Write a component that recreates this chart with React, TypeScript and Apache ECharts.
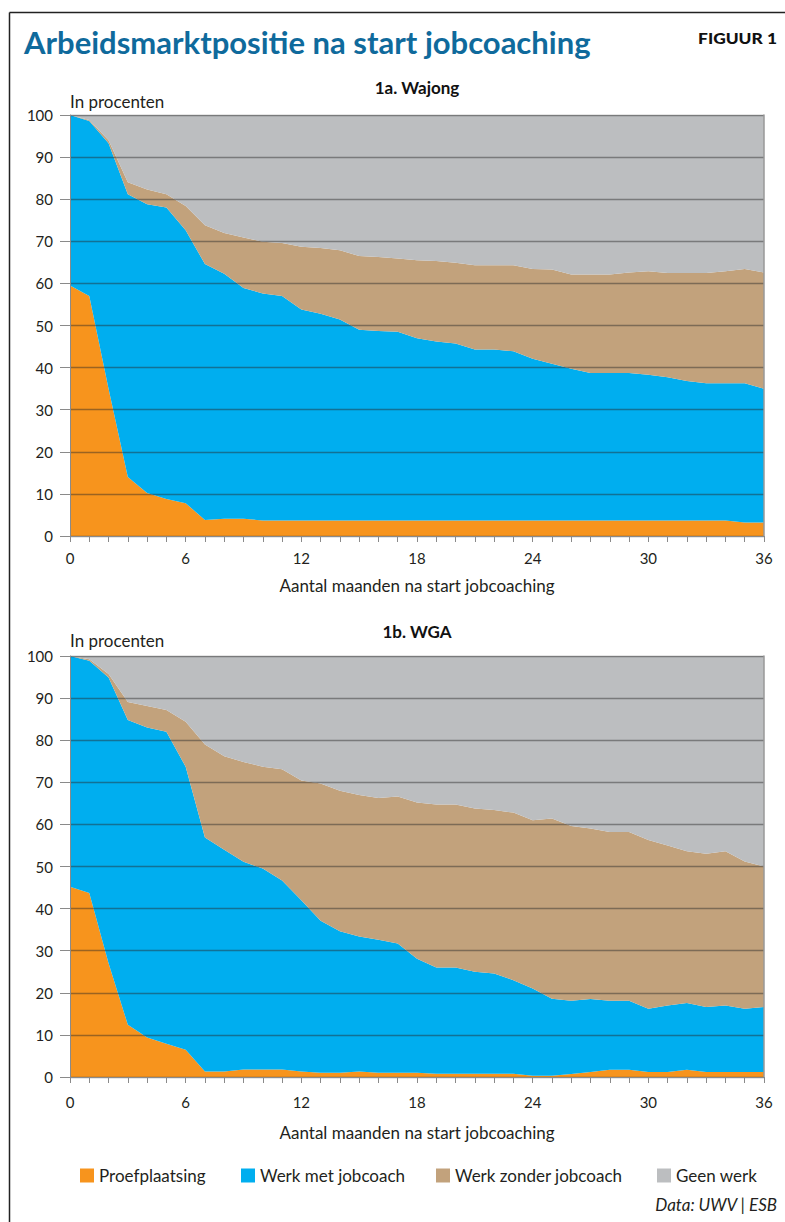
import React, { useEffect, useRef } from "react";
import * as echarts from "echarts";

const months = ["0","1","2","3","4","5","6","7","8","9","10","11","12","13","14","15","16","17","18","19","20","21","22","23","24","25","26","27","28","29","30","31","32","33","34","35","36"];
const seriesNames = ["Proefplaatsing", "Werk met jobcoach", "Werk zonder jobcoach", "Geen werk"];
const colors = ["#F7941D", "#00AEEF", "#C2A27C", "#BCBEC0"];

// 1a. Wajong (percentages per category, stacked to 100)
const wajongProef = [59.5,57,35,14,10.2,8.8,7.8,3.8,4.1,4.1,3.7,3.7,3.7,3.7,3.7,3.7,3.7,3.7,3.7,3.7,3.7,3.7,3.7,3.7,3.7,3.7,3.7,3.7,3.7,3.7,3.7,3.7,3.7,3.7,3.7,3.2,3.2];
const wajongMet = [40.5,41.6,58.3,67.2,68.6,69.2,64.8,60.8,58.2,54.8,53.9,53.3,50.1,49.1,47.7,45.3,45,44.8,43.3,42.5,42,40.6,40.6,40.2,38.4,37.2,36,35,35,35,34.6,34,33.1,32.6,32.6,33.1,31.8];
const wajongZonder = [0,0.2,0.7,2.8,3.5,3.2,5.8,9.2,9.7,12,12.3,12.6,14.9,15.6,16.5,17.5,17.6,17.4,18.5,19.1,19.2,20,20,20.4,21.3,22.4,22.4,23.4,23.4,23.9,24.6,24.8,25.7,26.2,26.6,27.1,27.6];
const wajongGeen = [0,1.2,6,16,17.7,18.8,21.6,26.2,28,29.1,30.1,30.4,31.3,31.6,32.1,33.5,33.7,34.1,34.5,34.7,35.1,35.7,35.7,35.7,36.6,36.7,37.9,37.9,37.9,37.4,37.1,37.5,37.5,37.5,37.1,36.6,37.4];

// 1b. WGA
const wgaProef = [45.2,43.7,27,12.4,9.4,7.9,6.5,1.3,1.3,1.8,1.8,1.8,1.3,1,1,1.3,1,1,1,0.8,0.8,0.8,0.8,0.8,0.3,0.3,0.7,1.2,1.7,1.7,1.2,1.2,1.7,1.2,1.2,1.2,1.2];
const wgaMet = [54.8,55.2,67.9,72.4,73.6,74.1,67.2,55.6,52.7,49.3,47.7,44.9,40.7,36.1,33.6,32.1,31.6,30.7,27.1,25.2,25.2,24.2,23.8,22.2,20.7,18.3,17.4,17.3,16.4,16.4,15,15.8,15.9,15.4,15.8,15,15.4];
const wgaZonder = [0,0.3,0.8,4.3,5.1,5.2,10.7,22.1,22.2,23.7,24.2,26.4,28.4,32.6,33.4,33.6,33.7,34.9,37.1,38.7,38.7,38.8,38.8,39.8,40,42.8,41.5,40.5,40.1,40.1,40.1,38,36,36.4,36.6,35,33.4];
const wgaGeen = [0,0.8,4.3,10.9,11.9,12.8,15.6,21,23.8,25.2,26.3,26.9,29.6,30.3,32,33,33.7,33.4,34.8,35.3,35.3,36.2,36.6,37.2,39,38.6,40.4,41,41.8,41.8,43.7,45,46.4,47,46.4,48.8,50];

const yTicks = [0,10,20,30,40,50,60,70,80,90,100];

const FONT = "Lato";
const TXT = "#231f20";
const AXIS = "#8a8a8a";

export default function App() {
  const ref = useRef<HTMLDivElement>(null);
  useEffect(() => {
    if (!ref.current) return;
    const chart = echarts.init(ref.current, null, { renderer: "svg" });
    const grids = [
      { left: 70, top: 115, width: 694, height: 421 },
      { left: 70, top: 656, width: 694, height: 421 },
    ];
    const xAxisName = "Aantal maanden na start jobcoaching";
    const xAxes = [0, 1].map((g) => ({
      type: "category",
      gridIndex: g,
      data: months,
      boundaryGap: false,
      z: 5,
      axisLine: { show: true, lineStyle: { color: AXIS, width: 1 } },
      axisTick: { show: true, interval: 0, length: 6, lineStyle: { color: AXIS } },
      axisLabel: { interval: 5, margin: g === 0 ? 14 : 17, fontSize: 15, color: TXT, fontFamily: FONT },
      splitLine: { show: false },
      name: xAxisName,
      nameLocation: "middle",
      nameGap: g === 0 ? 41 : 47,
      nameTextStyle: { fontSize: 17, color: TXT, fontFamily: FONT },
    }));
    const yAxes: any[] = [];
    [0, 1].forEach((g) => {
      yAxes.push({
        type: "value",
        gridIndex: g,
        min: yTicks[0],
        max: yTicks[yTicks.length - 1],
        interval: 10,
        z: 5,
        axisLine: { show: true, lineStyle: { color: AXIS, width: 1 } },
        axisTick: { show: true, length: 10, lineStyle: { color: AXIS } },
        axisLabel: { margin: 17, fontSize: 15, color: TXT, fontFamily: FONT },
        splitLine: { show: true, lineStyle: { color: "rgba(40,40,40,0.45)", width: 1.3 } },
      });
      yAxes.push({
        type: "value",
        gridIndex: g,
        position: "right",
        min: 0,
        max: 100,
        interval: 10,
        z: 5,
        axisLine: { show: true, lineStyle: { color: "#999", width: 1.5 } },
        axisTick: { show: false },
        axisLabel: { show: false },
        splitLine: { show: false },
      });
    });
    const sets = [
      [wajongProef, wajongMet, wajongZonder, wajongGeen],
      [wgaProef, wgaMet, wgaZonder, wgaGeen],
    ];
    const series: any[] = [];
    sets.forEach((set, g) => {
      set.forEach((vals, i) => {
        series.push({
          type: "line",
          name: seriesNames[i],
          xAxisIndex: g,
          yAxisIndex: g * 2,
          stack: "s" + g,
          data: vals,
          symbol: "none",
          showSymbol: false,
          lineStyle: { width: 0 },
          areaStyle: { color: colors[i], opacity: 1 },
          itemStyle: { color: colors[i] },
          emphasis: { disabled: true },
          silent: true,
          z: 2,
        });
      });
    });
    const legendLeft = [80, 241, 436, 657];
    const legend = seriesNames.map((n, i) => ({
      data: [{ name: n, icon: "rect" }],
      left: legendLeft[i],
      top: 1167,
      padding: 0,
      itemWidth: 14,
      itemHeight: 14,
      selectedMode: false,
      textStyle: { fontSize: 17, color: TXT, fontFamily: FONT },
    }));
    const graphic: any[] = [
      { type: "line", shape: { x1: 9.5, y1: 12.5, x2: 790, y2: 12.5 }, style: { stroke: "#222", lineWidth: 1.5 } },
      { type: "line", shape: { x1: 9.5, y1: 12.5, x2: 9.5, y2: 1230 }, style: { stroke: "#222", lineWidth: 1.5 } },
      { type: "text", x: 24, y: 42, style: { text: "Arbeidsmarktpositie na start jobcoaching", font: `bold 31px ${FONT}`, fill: "#0f6a9c", verticalAlign: "middle", align: "left" } },
      { type: "text", x: 777, y: 38, scaleX: 1.12, style: { text: "FIGUUR 1", font: `900 15.5px ${FONT}`, fill: "#111", verticalAlign: "middle", align: "right" } },
      { type: "text", x: 417, y: 87, style: { text: "1a. Wajong", font: `bold 17px ${FONT}`, fill: "#111", verticalAlign: "middle", align: "center" } },
      { type: "text", x: 70, y: 101, style: { text: "In procenten", font: `17px ${FONT}`, fill: TXT, verticalAlign: "middle", align: "left" } },
      { type: "text", x: 417, y: 631, style: { text: "1b. WGA", font: `bold 17px ${FONT}`, fill: "#111", verticalAlign: "middle", align: "center" } },
      { type: "text", x: 70, y: 640, style: { text: "In procenten", font: `17px ${FONT}`, fill: TXT, verticalAlign: "middle", align: "left" } },
      { type: "text", x: 777, y: 1204, style: { text: "Data: UWV | ESB", font: `italic 17px ${FONT}`, fill: TXT, verticalAlign: "middle", align: "right" } },
    ];
    chart.setOption({
      animation: false,
      backgroundColor: "#ffffff",
      textStyle: { fontFamily: FONT },
      grid: grids,
      xAxis: xAxes,
      yAxis: yAxes,
      series,
      legend,
      graphic,
    });
    return () => chart.dispose();
  }, []);
  return (
    <div style={{ position: "absolute", left: 0, top: 0, width: 785, height: 1222, background: "#fff" }}>
      <div ref={ref} style={{ width: 785, height: 1222 }} />
    </div>
  );
}
